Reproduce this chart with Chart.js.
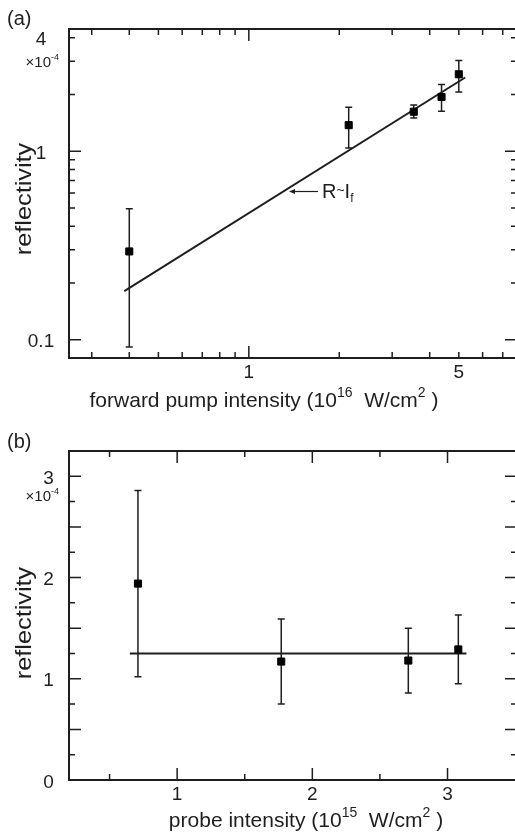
<!DOCTYPE html>
<html><head><meta charset="utf-8">
<script src="https://cdn.jsdelivr.net/npm/chart.js@4/dist/chart.umd.min.js"></script>
<style>
html,body{margin:0;padding:0;background:#fff;width:515px;height:838px;overflow:hidden;}
.wrap{position:absolute;left:0;width:518px;}
#wa{top:0;height:420px;} #wb{top:420px;height:418px;}
canvas{display:block;}
</style></head><body>
<div class="wrap" id="wa"><canvas id="ca" width="518" height="420"></canvas></div>
<div class="wrap" id="wb"><canvas id="cb" width="518" height="418"></canvas></div>
<script>
// ---------- Panel (a) data ----------
const aX = [0.40, 2.15, 3.54, 4.38, 5.0];
const aY = [0.294, 1.375, 1.62, 1.94, 2.56];
const aYErrLow = [0.0914, 1.04, 1.50, 1.63, 2.06];
const aYErrHigh = [0.496, 1.71, 1.76, 2.26, 3.03];
const aFitX = [0.385, 5.25];
const aFitY = [0.181, 2.46];
const aXMajorTicks = [1];
const aXMinorTicks = [0.3, 0.4, 0.5, 0.6, 0.7, 0.8, 0.9, 2, 3, 4, 5, 6, 7];
const aXTickValues = [1, 5];
const aXTickLabels = ['1', '5'];
const aYMajorTicks = [0.1, 1];
const aYMinorTicks = [0.2, 0.3, 0.4, 0.5, 0.6, 0.7, 0.8, 0.9, 2, 3, 4];
const aYTickValues = [0.1, 1, 4];
const aYTickLabels = ['0.1', '1', '4'];

// ---------- Panel (b) data ----------
const bX = [0.71, 1.77, 2.71, 3.08];
const bY = [1.94, 1.17, 1.18, 1.29];
const bYErrLow = [1.02, 0.75, 0.86, 0.95];
const bYErrHigh = [2.86, 1.59, 1.50, 1.63];
const bFitX = [0.65, 3.14];
const bFitY = [1.25, 1.25];
const bXMajorTicks = [1, 2, 3];
const bXMinorTicks = [0.5, 1.5, 2.5];
const bXTickValues = [1, 2, 3];
const bXTickLabels = ['1', '2', '3'];
const bYMajorTicks = [0.5, 1, 1.5, 2, 2.5, 3];
const bYMinorTicks = [0.25, 0.75, 1.25, 1.75, 2.25, 2.75];
const bYTickValues = [0, 1, 2, 3];
const bYTickLabels = ['0', '1', '2', '3'];

const INK = '#1e1e1e';
const FONT = '"Liberation Sans", Arial, Helvetica, sans-serif';

function rich(ctx, parts, x, y, align, rot, stretch) {
  let w = 0;
  parts.forEach(p => { ctx.font = p.s + 'px ' + FONT; p.w = ctx.measureText(p.t).width; w += p.w; });
  ctx.save();
  ctx.translate(x, y);
  if (rot) ctx.rotate(-Math.PI / 2);
  ctx.scale(stretch || 1, 1);
  let cx = align === 'center' ? -w / 2 : (align === 'right' ? -w : 0);
  ctx.textAlign = 'left'; ctx.textBaseline = 'alphabetic'; ctx.fillStyle = INK;
  parts.forEach(p => { ctx.font = p.s + 'px ' + FONT; ctx.fillText(p.t, cx, p.dy || 0); cx += p.w; });
  ctx.restore();
}

function makePlugin(cfg) {
  return {
    id: 'decor',
    beforeDatasetsDraw(chart) {
      const ctx = chart.ctx, xs = chart.scales.x, ys = chart.scales.y;
      ctx.save();
      ctx.strokeStyle = INK; ctx.lineWidth = 1.5;
      cfg.ex.forEach((xv, i) => {
        const px = xs.getPixelForValue(xv);
        const p1 = ys.getPixelForValue(cfg.lo[i]), p2 = ys.getPixelForValue(cfg.hi[i]);
        ctx.beginPath();
        ctx.moveTo(px, p1); ctx.lineTo(px, p2);
        ctx.moveTo(px - 3.5, p1); ctx.lineTo(px + 3.5, p1);
        ctx.moveTo(px - 3.5, p2); ctx.lineTo(px + 3.5, p2);
        ctx.stroke();
      });
      ctx.restore();
    },
    afterDraw(chart) {
      const ctx = chart.ctx, xs = chart.scales.x, ys = chart.scales.y, a = chart.chartArea;
      ctx.save();
      ctx.strokeStyle = INK; ctx.lineWidth = 2;
      ctx.strokeRect(a.left, a.top, a.right - a.left, a.bottom - a.top);
      ctx.lineWidth = 1.5;
      ctx.beginPath();
      const tx = (v, L) => { const p = xs.getPixelForValue(v);
        ctx.moveTo(p, a.bottom); ctx.lineTo(p, a.bottom - L);
        ctx.moveTo(p, a.top); ctx.lineTo(p, a.top + L); };
      const ty = (v, L) => { const p = ys.getPixelForValue(v);
        ctx.moveTo(a.left, p); ctx.lineTo(a.left + L, p);
        ctx.moveTo(a.right, p); ctx.lineTo(a.right - L, p); };
      cfg.xMaj.forEach(v => tx(v, 12)); cfg.xMin.forEach(v => tx(v, 6));
      cfg.yMaj.forEach(v => ty(v, 12)); cfg.yMin.forEach(v => ty(v, 6));
      ctx.stroke();
      ctx.restore();
      // tick labels
      cfg.xVals.forEach((v, i) => rich(ctx, [{t: cfg.xLabs[i], s: 19}], xs.getPixelForValue(v), a.bottom + 20, 'center'));
      cfg.yVals.forEach((v, i) => rich(ctx, [{t: cfg.yLabs[i], s: 19}], cfg.yLabX, ys.getPixelForValue(v) + 7.5, 'center'));
      cfg.extra(ctx, chart);
    }
  };
}

function makeChart(id, d) {
  return new Chart(document.getElementById(id), {
    type: 'scatter',
    data: {
      datasets: [
        { data: d.x.map((v, i) => ({x: v, y: d.y[i]})), pointStyle: 'rect', pointRadius: 5,
          pointBorderWidth: 1, backgroundColor: '#000', borderColor: '#000', showLine: false },
        { data: d.fx.map((v, i) => ({x: v, y: d.fy[i]})), showLine: true, pointRadius: 0,
          borderColor: INK, borderWidth: 2, fill: false }
      ]
    },
    options: {
      responsive: false, animation: false, devicePixelRatio: 1,
      layout: { padding: d.pad, autoPadding: false },
      plugins: { legend: {display: false}, tooltip: {enabled: false} },
      scales: {
        x: { type: d.xType, min: d.xMin, max: d.xMax, display: false },
        y: { type: d.yType, min: d.yMin, max: d.yMax, display: false }
      }
    },
    plugins: [makePlugin(d.plug)]
  });
}

makeChart('ca', {
  x: aX, y: aY, fx: aFitX, fy: aFitY,
  pad: {left: 69, top: 29, right: 1, bottom: 62},
  xType: 'logarithmic', xMin: 0.252, xMax: 7.81, yType: 'logarithmic', yMin: 0.08, yMax: 4.45,
  plug: {
    ex: aX, lo: aYErrLow, hi: aYErrHigh,
    xMaj: aXMajorTicks, xMin: aXMinorTicks, yMaj: aYMajorTicks, yMin: aYMinorTicks,
    xVals: aXTickValues, xLabs: aXTickLabels, yVals: aYTickValues, yLabs: aYTickLabels, yLabX: 41,
    extra(ctx, chart) {
      rich(ctx, [{t: '(a)', s: 20}], 7, 25, 'left');
      rich(ctx, [{t: '\u00d710', s: 15}, {t: '-4', s: 9, dy: -7}], 59, 67, 'right');
      rich(ctx, [{t: 'reflectivity', s: 22}], 31, 199, 'center', true, 1.15);
      rich(ctx, [{t: 'forward pump intensity (10', s: 21}, {t: '16', s: 14, dy: -10},
                 {t: '  W/cm', s: 21}, {t: '2', s: 14, dy: -10}, {t: ' )', s: 21}], 264, 407, 'center');
      // annotation R~I_f with arrow
      ctx.save(); ctx.strokeStyle = INK; ctx.fillStyle = INK; ctx.lineWidth = 1.2;
      ctx.beginPath(); ctx.moveTo(318, 191.5); ctx.lineTo(292, 191.5); ctx.stroke();
      ctx.beginPath(); ctx.moveTo(289, 191.5); ctx.lineTo(295, 189); ctx.lineTo(295, 194); ctx.closePath(); ctx.fill();
      ctx.restore();
      rich(ctx, [{t: 'R', s: 20}, {t: '~', s: 14, dy: -3}, {t: 'I', s: 20}, {t: 'f', s: 12, dy: 4}], 322, 198, 'left');
    }
  }
});

makeChart('cb', {
  x: bX, y: bY, fx: bFitX, fy: bFitY,
  pad: {left: 69, top: 31, right: 1, bottom: 58},
  xType: 'linear', xMin: 0.2, xMax: 3.514, yType: 'linear', yMin: 0, yMax: 3.25,
  plug: {
    ex: bX, lo: bYErrLow, hi: bYErrHigh,
    xMaj: bXMajorTicks, xMin: bXMinorTicks, yMaj: bYMajorTicks, yMin: bYMinorTicks,
    xVals: bXTickValues, xLabs: bXTickLabels, yVals: bYTickValues, yLabs: bYTickLabels, yLabX: 48.5,
    extra(ctx, chart) {
      rich(ctx, [{t: '(b)', s: 20}], 7, 28, 'left');
      rich(ctx, [{t: '\u00d710', s: 15}, {t: '-4', s: 9, dy: -7}], 59, 81, 'right');
      rich(ctx, [{t: 'reflectivity', s: 22}], 31, 203, 'center', true, 1.15);
      rich(ctx, [{t: 'probe intensity (10', s: 21}, {t: '15', s: 14, dy: -10},
                 {t: '  W/cm', s: 21}, {t: '2', s: 14, dy: -10}, {t: ' )', s: 21}], 306, 407, 'center');
    }
  }
});
</script>
</body></html>
